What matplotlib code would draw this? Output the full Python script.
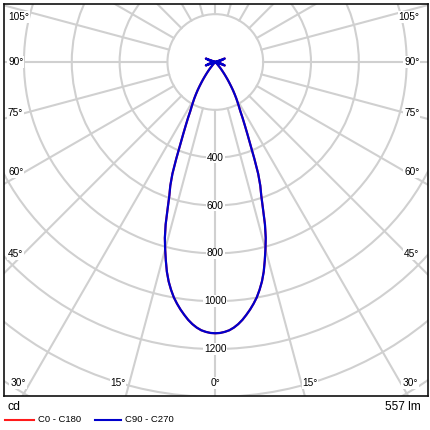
"""Polar light distribution curve (LDC) for a narrow-beam luminaire."""

import matplotlib
matplotlib.use("Agg")
import matplotlib.pyplot as plt
from matplotlib.patches import Circle
from matplotlib.lines import Line2D
import numpy as np

plt.rcParams["font.family"] = ["Liberation Sans", "DejaVu Sans"]

# gamma angle (deg) and luminous intensity (cd)
gamma = [0, 1, 2, 3, 4, 5, 6, 7, 8, 9, 10, 11, 12, 13, 14, 15, 16, 17, 18,
         19, 20, 21, 22, 23, 24, 25, 26, 27, 28, 29, 30, 31, 32, 33, 34,
         35, 36, 37, 38, 39, 40, 42, 45, 50, 55, 60, 65, 70, 75, 80, 85, 90,
         95, 100, 105, 110, 115, 120, 135, 150, 165, 180]
c0_c180 = [1134, 1133, 1129, 1123, 1113, 1100, 1084, 1065, 1045, 1023, 999,
           970, 938, 900, 855, 810, 765, 710, 645, 590, 550, 500, 435, 375,
           330, 292, 260, 230, 210, 192, 175, 157, 140, 122, 105, 90, 75, 62,
           50, 40, 30, 15, 5, 0, 0, 0, 0, 42, 25, 0, 0, 0, 0, 0, 25, 42,
           0, 0, 0, 0, 0, 0]
c90_c270 = [1134, 1133, 1129, 1123, 1113, 1100, 1084, 1065, 1045, 1023, 999,
            970, 938, 900, 855, 810, 765, 710, 645, 590, 550, 500, 435, 375,
            330, 292, 260, 230, 210, 192, 175, 157, 140, 122, 105, 90, 75, 62,
            50, 40, 30, 15, 5, 0, 0, 0, 0, 42, 25, 0, 0, 0, 0, 0, 25, 42,
            0, 0, 0, 0, 0, 0]

rings = [200, 400, 600, 800, 1000, 1200, 1400, 1600]
ring_labels = [400, 600, 800, 1000, 1200]
spokes = np.arange(0, 360, 15)
flux_text = "557 lm"

_GRID = "#d0d0d0"
_RED = "#ff1a1a"
_BLUE = "#0000cc"

# pixel geometry of the 430x430 canvas
W = H = 430
CX, CY = 215.3, 62.0   # pole of the diagram
SCALE = 0.2392         # px per cd
FRAME = (4, 4, 428, 396)  # left, top, right, bottom


def _data(px, py):
    return (px - CX) / SCALE, (CY - py) / SCALE


def _curve(vals):
    g = np.radians(np.array(gamma, dtype=float))
    v = np.array(vals, dtype=float)
    # mirror: C270 half on the left, C90 half on the right
    g_full = np.concatenate([-g[::-1], g[1:]])
    v_full = np.concatenate([v[::-1], v[1:]])
    return v_full * np.sin(g_full), -v_full * np.cos(g_full)


fig = plt.figure(figsize=(W / 100, H / 100), dpi=100, facecolor="white")
l, t, r, b = FRAME
ax = fig.add_axes([l / W, 1 - b / H, (r - l) / W, (b - t) / H])
x0, y0 = _data(l, b)
x1, y1 = _data(r, t)
ax.set_xlim(x0, x1)
ax.set_ylim(y0, y1)
ax.set_xticks([])
ax.set_yticks([])
for sp in ax.spines.values():
    sp.set_color("#111111")
    sp.set_linewidth(1.2)

# grid: rings and 15 degree spokes starting at the inner ring
for rr in rings:
    ax.add_patch(Circle((0, 0), rr, fill=False, color=_GRID, lw=1.5, zorder=1))
for a in np.radians(spokes):
    ax.plot([rings[0] * np.sin(a), 2200 * np.sin(a)],
            [-rings[0] * np.cos(a), -2200 * np.cos(a)],
            color=_GRID, lw=1.5, zorder=1)

# curves
xr, yr = _curve(c0_c180)
ax.plot(xr, yr, color=_RED, lw=1.5, zorder=3)
xb, yb = _curve(c90_c270)
ax.plot(xb, yb, color=_BLUE, lw=1.6, zorder=4, solid_joinstyle="round")

box = dict(facecolor="white", edgecolor="none", pad=0.6)
for rv in ring_labels:
    ax.text(0, -rv, str(rv), ha="center", va="center", fontsize=7.3,
            bbox=box, zorder=5)

# angle labels around the frame
side = [("105°", 16.7), ("90°", 62), ("75°", 113), ("60°", 172), ("45°", 254)]
for txt, py in side:
    ax.text(*_data(8, py), txt, ha="left", va="center", fontsize=7.3,
            bbox=box, zorder=5)
    ax.text(*_data(419.5, py), txt, ha="right", va="center", fontsize=7.3,
            bbox=box, zorder=5)
bottom = [("30°", 18), ("15°", 118), ("0°", 215.5), ("15°", 310), ("30°", 410)]
for txt, px in bottom:
    ax.text(*_data(px, 383), txt, ha="center", va="center", fontsize=7.3,
            bbox=box, zorder=5)

# footer: unit, flux and legend
fig.text(8 / W, 1 - 407 / H, "cd", ha="left", va="center", fontsize=8.8)
fig.text(420.5 / W, 1 - 407 / H, flux_text, ha="right", va="center", fontsize=8.6)
ly = 1 - 419.5 / H
fig.add_artist(Line2D([5 / W, 34 / W], [ly, ly], color=_RED, lw=1.5))
fig.text(38 / W, ly, "C0 - C180", ha="left", va="center", fontsize=6.8)
fig.add_artist(Line2D([95 / W, 121 / W], [ly, ly], color=_BLUE, lw=1.5))
fig.text(125 / W, ly, "C90 - C270", ha="left", va="center", fontsize=6.8)

fig.savefig("out.png", dpi=100, facecolor="white")
plt.close(fig)
